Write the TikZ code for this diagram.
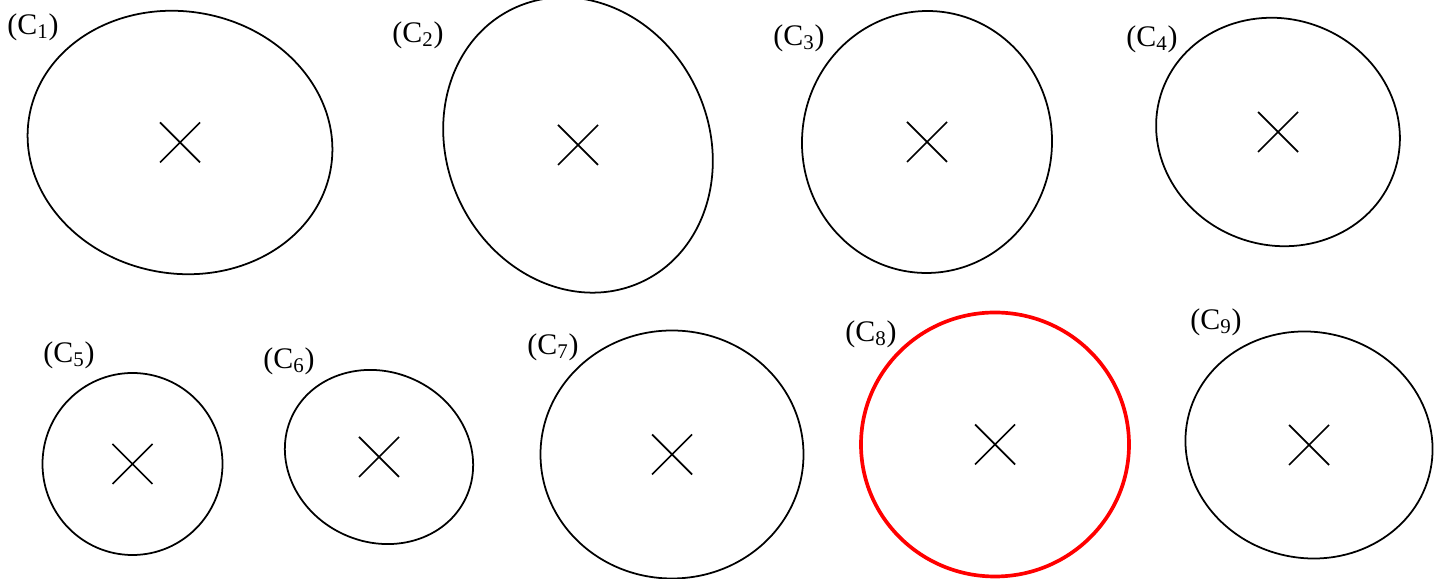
\documentclass[tikz,border=0pt]{standalone}
\usepackage{fontspec}
\setmainfont{Liberation Serif}
\usepackage{tikz}

\begin{document}
\begin{tikzpicture}[line width=1pt, font=\fontsize{17}{20}\selectfont,
  ring/.style={black, line width=1pt},
  hot/.style={red, line width=2.1pt},
  tag/.style={inner sep=0pt}]
  \useasboundingbox (0,0) rectangle (28.8,11.58);
  %% contours, each with a cross at its centre
  \foreach \n/\x/\y/\a/\b/\r/\s in {
      1/3.60/8.73/3.06/2.62/-10/ring,
      2/11.56/8.68/2.62/3.02/25/ring,
      3/18.54/8.74/2.50/2.62/-3/ring,
      4/25.56/8.94/2.46/2.26/-20/ring,
      5/2.65/2.30/1.80/1.82/0/ring,
      6/7.58/2.44/1.92/1.70/-25/ring,
      7/13.44/2.49/2.63/2.48/0/ring,
      8/19.90/2.69/2.68/2.64/0/hot,
      9/26.18/2.68/2.48/2.26/-12/ring}{
    \draw[\s, shift={(\x,\y)}, rotate=\r] (0,0) ellipse [x radius=\a, y radius=\b];
    \coordinate (c\n) at (\x,\y);
    \draw (c\n) +(-0.4,-0.4) -- +(0.4,0.4)
          (c\n) +(-0.4,0.4) -- +(0.4,-0.4);
  }
  %% labels
  \foreach \n/\x/\y in {1/0.66/11.04, 2/8.36/10.88, 3/15.98/10.82,
      4/23.04/10.80, 5/1.38/4.48, 6/5.78/4.36, 7/11.06/4.64,
      8/17.42/4.90, 9/24.32/5.14}
    \node[tag] (l\n) at (\x,\y) {(C\textsubscript{\n})};
\end{tikzpicture}
\end{document}
